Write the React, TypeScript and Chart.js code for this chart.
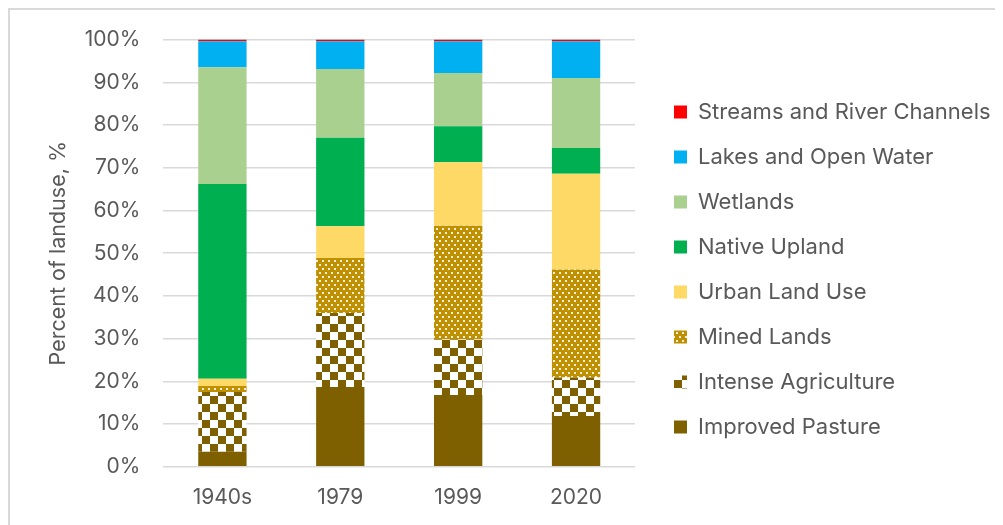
import React, { useEffect, useRef } from "react";
import { Chart, registerables } from "chart.js";

Chart.register(...registerables);

const categories = ["1940s", "1979", "1999", "2020"];
const improvedPasture = [3.5, 18.7, 16.8, 11.9];
const intenseAgriculture = [14.0, 17.3, 13.0, 9.0];
const minedLands = [1.4, 12.9, 26.6, 25.3];
const urbanLandUse = [1.7, 7.4, 14.9, 22.4];
const nativeUpland = [45.6, 20.7, 8.4, 6.0];
const wetlands = [27.3, 16.1, 12.5, 16.4];
const lakesOpenWater = [6.1, 6.5, 7.4, 8.6];
const streamsRiver = [0.4, 0.4, 0.4, 0.4];
const seriesNames = [
  "Improved Pasture",
  "Intense Agriculture",
  "Mined Lands",
  "Urban Land Use",
  "Native Upland",
  "Wetlands",
  "Lakes and Open Water",
  "Streams and River Channels",
];

const FONT = "Inter";
const TEXT = "#595959";

function checkerPattern(): CanvasPattern | string {
  const c = document.createElement("canvas");
  c.width = 16;
  c.height = 16;
  const x = c.getContext("2d");
  if (!x) return "#7F6000";
  x.fillStyle = "#ffffff";
  x.fillRect(0, 0, 16, 16);
  x.fillStyle = "#7F6000";
  x.fillRect(0, 0, 8, 8);
  x.fillRect(8, 8, 8, 8);
  return x.createPattern(c, "repeat") || "#7F6000";
}

function dotPattern(): CanvasPattern | string {
  const c = document.createElement("canvas");
  c.width = 6;
  c.height = 8;
  const x = c.getContext("2d");
  if (!x) return "#BF9000";
  x.fillStyle = "#BF9000";
  x.fillRect(0, 0, 6, 8);
  x.fillStyle = "rgba(255,255,255,0.85)";
  x.fillRect(0, 0, 2, 2);
  x.fillRect(3, 4, 2, 2);
  return x.createPattern(c, "repeat") || "#BF9000";
}

export default function App() {
  const ref = useRef<HTMLCanvasElement | null>(null);

  useEffect(() => {
    if (!ref.current) return;
    const values = [
      improvedPasture,
      intenseAgriculture,
      minedLands,
      urbanLandUse,
      nativeUpland,
      wetlands,
      lakesOpenWater,
      streamsRiver,
    ];
    const colors: (string | CanvasPattern)[] = [
      "#7F6000",
      checkerPattern(),
      dotPattern(),
      "#FFD966",
      "#00B050",
      "#A9D08E",
      "#00B0F0",
      "#FF0000",
    ];
    const legendPatch = {
      id: "legendPatch",
      beforeLayout(chart: any) {
        const lg = chart.legend;
        if (lg && !lg.__patched) {
          const orig = lg.fit.bind(lg);
          lg.fit = function () {
            orig();
            this.width = 360;
          };
          lg.__patched = true;
        }
      },
      afterLayout(chart: any) {
        const lg = chart.legend;
        if (lg) {
          lg.left += 16;
          lg.right += 16;
          lg.top -= 2;
          lg.bottom -= 2;
        }
      },
    };
    const chart = new Chart(ref.current, {
      type: "bar",
      data: {
        labels: categories,
        datasets: values.map((v, i) => ({
          label: seriesNames[i],
          data: v,
          backgroundColor: colors[i],
          borderWidth: 0,
          barPercentage: 0.41,
          categoryPercentage: 1,
        })),
      },
      options: {
        animation: false,
        responsive: false,
        layout: { padding: { top: 11, bottom: 1, left: 32, right: 0 } },
        scales: {
          x: {
            stacked: true,
            grid: { display: false, drawTicks: false },
            border: { display: false },
            ticks: { color: TEXT, font: { family: FONT, size: 21 }, padding: 18 },
          },
          y: {
            stacked: true,
            min: 0,
            max: 100,
            grid: { color: "#d9d9d9", lineWidth: 1.5, drawTicks: false },
            border: { display: false },
            ticks: {
              stepSize: 10,
              color: TEXT,
              font: { family: FONT, size: 21 },
              padding: 23,
              callback: (v: any) => v + "%",
            },
            title: {
              display: true,
              text: "Percent of landuse, %",
              color: TEXT,
              font: { family: FONT, size: 21.5 },
              padding: { top: 4, bottom: -10 },
            },
          },
        },
        plugins: {
          legend: {
            position: "right",
            reverse: true,
            labels: {
              color: TEXT,
              font: { family: FONT, size: 22 },
              boxWidth: 13,
              boxHeight: 13,
              padding: 23,
            },
          },
          tooltip: { enabled: false },
        },
      },
      plugins: [legendPatch],
    });
    return () => chart.destroy();
  }, []);

  return (
    <div
      style={{
        width: 987,
        height: 517,
        boxSizing: "border-box",
        borderTop: "2px solid #d9d9d9",
        borderLeft: "2px solid #d9d9d9",
        background: "#fff",
        overflow: "hidden",
      }}
    >
      <canvas
        ref={ref}
        width={985}
        height={525}
        style={{ display: "block", marginTop: -6 }}
      />
    </div>
  );
}
